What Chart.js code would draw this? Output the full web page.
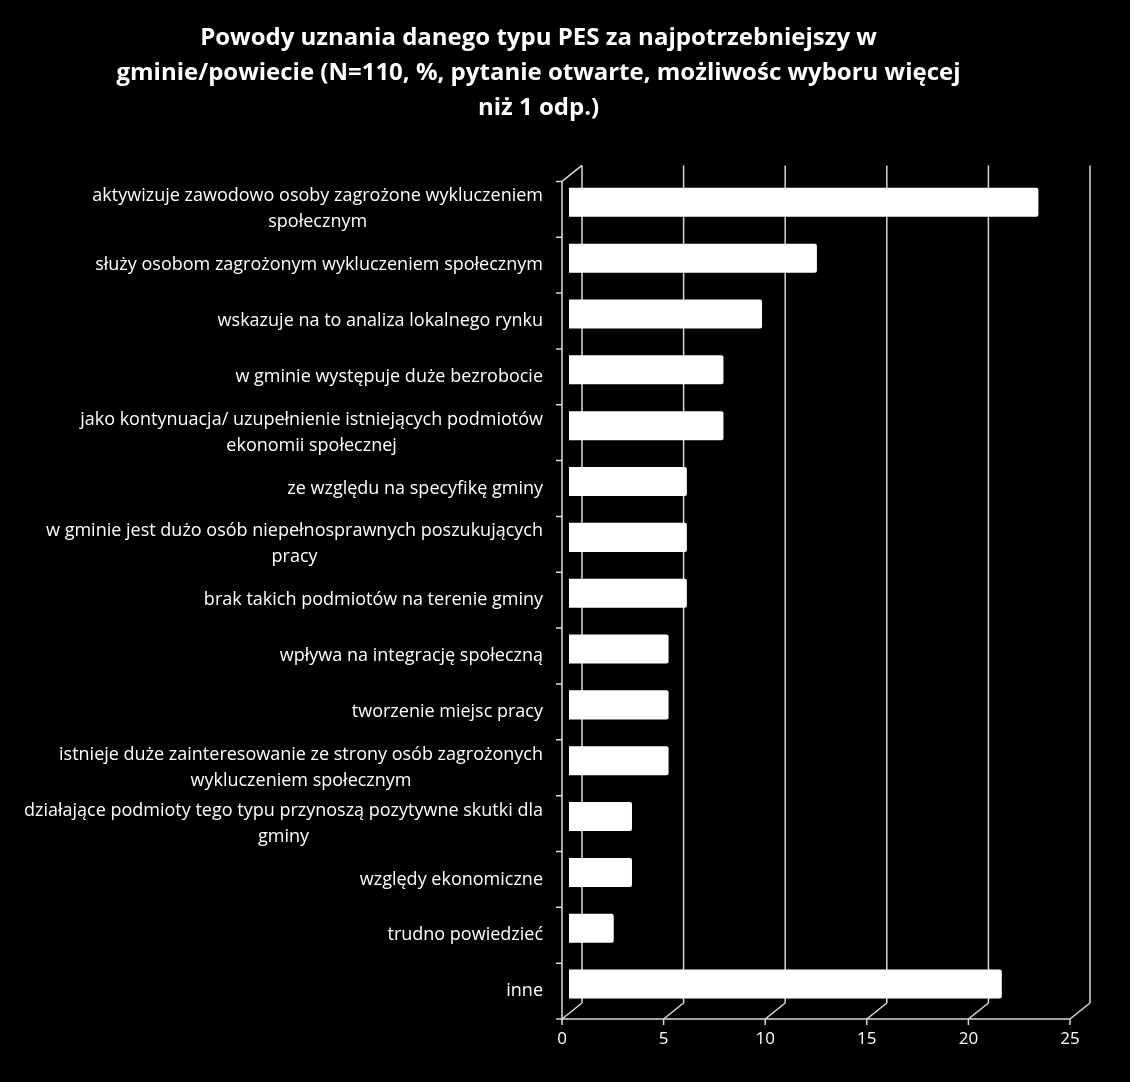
<!DOCTYPE html>
<html lang="pl">
<head>
  <meta charset="UTF-8">
  <title>Powody uznania danego typu PES</title>
  <script src="https://cdn.jsdelivr.net/npm/chart.js"></script>
  <style>
    html, body { margin: 0; padding: 0; background: #000; }
    #wrap { width: 1130px; height: 1082px; }
  </style>
</head>
<body>
  <div id="wrap"><canvas id="chart"></canvas></div>
  <script>
    const titleLines = [
      "Powody uznania danego typu PES za najpotrzebniejszy w",
      "gminie/powiecie (N=110, %, pytanie otwarte, możliwośc wyboru więcej",
      "niż 1 odp.)"
    ];

    const categories = [
      ["aktywizuje zawodowo osoby zagrożone wykluczeniem", "społecznym"],
      ["służy osobom zagrożonym wykluczeniem społecznym"],
      ["wskazuje na to analiza lokalnego rynku"],
      ["w gminie występuje duże bezrobocie"],
      ["jako kontynuacja/ uzupełnienie istniejących podmiotów", "ekonomii społecznej"],
      ["ze względu na specyfikę gminy"],
      ["w gminie jest dużo osób niepełnosprawnych poszukujących", "pracy"],
      ["brak takich podmiotów na terenie gminy"],
      ["wpływa na integrację społeczną"],
      ["tworzenie miejsc pracy"],
      ["istnieje duże zainteresowanie ze strony osób zagrożonych", "wykluczeniem społecznym"],
      ["działające podmioty tego typu przynoszą pozytywne skutki dla", "gminy"],
      ["względy ekonomiczne"],
      ["trudno powiedzieć"],
      ["inne"]
    ];

    const percentValues = [23.1, 12.2, 9.5, 7.6, 7.6, 5.8, 5.8, 5.8, 4.9, 4.9, 4.9, 3.1, 3.1, 2.2, 21.3];

    const xTicks = [0, 5, 10, 15, 20, 25];

    const FONT = "'Open Sans', Lato, sans-serif";

    // pseudo-3D frame: back wall, floor and left wall
    const frame3d = {
      id: 'frame3d',
      beforeDatasetsDraw(chart) {
        const ctx = chart.ctx;
        const a = chart.chartArea;
        const xs = chart.scales.x;
        const bx = 13, by = -9, fx = -7, fy = 7;
        ctx.save();
        ctx.strokeStyle = '#d9d9d9';
        ctx.lineWidth = 1.5;
        ctx.beginPath();
        xTicks.forEach(v => {
          const x = xs.getPixelForValue(v);
          ctx.moveTo(x + bx, a.top + by);
          ctx.lineTo(x + bx, a.bottom + by);
          ctx.moveTo(x + fx, a.bottom + fy);
          ctx.lineTo(x + bx, a.bottom + by);
          ctx.moveTo(x + fx, a.bottom + fy);
          ctx.lineTo(x + fx, a.bottom + fy + 6);
        });
        const x0 = xs.getPixelForValue(xTicks[0]);
        const x1 = xs.getPixelForValue(xTicks[xTicks.length - 1]);
        ctx.moveTo(x0 + fx, a.bottom + fy);
        ctx.lineTo(x1 + fx, a.bottom + fy);
        ctx.moveTo(x0 + fx, a.top + fy);
        ctx.lineTo(x0 + fx, a.bottom + fy);
        ctx.moveTo(x0 + fx, a.top + fy);
        ctx.lineTo(x0 + bx, a.top + by);
        const n = categories.length;
        const step = (a.bottom - a.top) / n;
        for (let i = 0; i <= n; i++) {
          const y = a.top + i * step + fy;
          ctx.moveTo(x0 + fx - 6, y);
          ctx.lineTo(x0 + fx, y);
        }
        ctx.stroke();
        ctx.restore();
      },
      afterDraw(chart) {
        const ctx = chart.ctx;
        const ys = chart.scales.y;
        const right = 543, lh = 26;
        ctx.save();
        ctx.fillStyle = '#ffffff';
        ctx.font = "18px " + FONT;
        ctx.textAlign = 'center';
        ctx.textBaseline = 'middle';
        categories.forEach((lines, i) => {
          const cy = ys.getPixelForValue(i) + 7;
          const w = Math.max(...lines.map(l => ctx.measureText(l).width));
          const cx = right - w / 2;
          lines.forEach((l, k) => {
            ctx.fillText(l, cx, cy + (k - (lines.length - 1) / 2) * lh);
          });
        });
        ctx.restore();
      }
    };

    new Chart(document.getElementById('chart'), {
      type: 'bar',
      data: {
        labels: categories,
        datasets: [{
          data: percentValues,
          backgroundColor: '#ffffff',
          borderWidth: 0,
          borderRadius: 2,
          barPercentage: 0.52,
          categoryPercentage: 1
        }]
      },
      options: {
        indexAxis: 'y',
        responsive: true,
        maintainAspectRatio: false,
        animation: false,
        layout: { padding: { left: 0, right: 53, top: 0, bottom: 0 } },
        plugins: {
          legend: { display: false },
          tooltip: { enabled: false },
          title: {
            display: true,
            text: titleLines,
            color: '#ffffff',
            font: { family: FONT, size: 24, weight: 'bold', lineHeight: 1.45 },
            padding: { top: 21, bottom: 49 }
          }
        },
        scales: {
          x: {
            min: 0,
            max: 25,
            afterBuildTicks: s => { s.ticks = xTicks.map(v => ({ value: v })); },
            afterFit: s => { s.height = 70; },
            grid: { display: false, drawTicks: false },
            border: { display: false },
            ticks: {
              color: '#ffffff',
              font: { family: FONT, size: 17 },
              padding: 17,
              labelOffset: -7
            }
          },
          y: {
            afterFit: s => { s.width = 569; },
            grid: { display: false, drawTicks: false },
            border: { display: false },
            ticks: { display: false }
          }
        }
      },
      plugins: [frame3d]
    });
  </script>
</body>
</html>
